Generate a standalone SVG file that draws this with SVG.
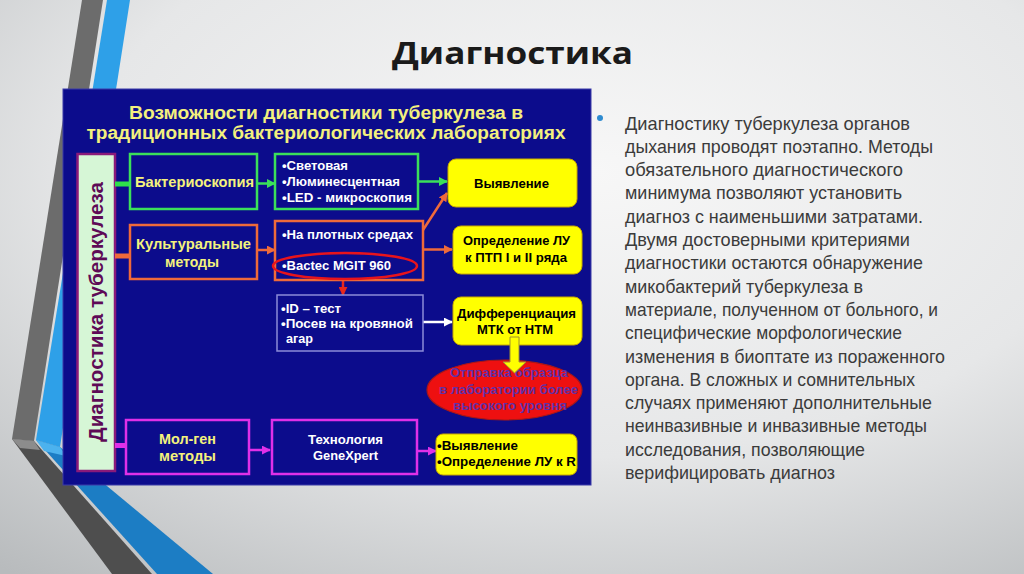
<svg xmlns="http://www.w3.org/2000/svg" width="1024" height="574" viewBox="0 0 1024 574">
<defs>
<radialGradient id="bg" cx="0.58" cy="0.3" r="0.9">
<stop offset="0" stop-color="#f7f7f7"/>
<stop offset="0.55" stop-color="#e6e7e8"/>
<stop offset="1" stop-color="#b8bbbd"/>
</radialGradient>
<marker id="mG" viewBox="0 0 10 10" refX="9" refY="5" markerWidth="9" markerHeight="9" markerUnits="userSpaceOnUse" orient="auto"><path d="M0,0 L10,5 L0,10 z" fill="#3be05a"/></marker>
<marker id="mO" viewBox="0 0 10 10" refX="9" refY="5" markerWidth="9" markerHeight="9" markerUnits="userSpaceOnUse" orient="auto"><path d="M0,0 L10,5 L0,10 z" fill="#ef6a3a"/></marker>
<marker id="mR" viewBox="0 0 10 10" refX="9" refY="5" markerWidth="9" markerHeight="9" markerUnits="userSpaceOnUse" orient="auto"><path d="M0,0 L10,5 L0,10 z" fill="#e8281c"/></marker>
<marker id="mW" viewBox="0 0 10 10" refX="9" refY="5" markerWidth="9" markerHeight="9" markerUnits="userSpaceOnUse" orient="auto"><path d="M0,0 L10,5 L0,10 z" fill="#ffffff"/></marker>
<marker id="mM" viewBox="0 0 10 10" refX="9" refY="5" markerWidth="9" markerHeight="9" markerUnits="userSpaceOnUse" orient="auto"><path d="M0,0 L10,5 L0,10 z" fill="#e030e8"/></marker>
</defs>
<style>
.ar{font-family:"Liberation Sans",Arial,sans-serif;font-weight:bold}
.hd{fill:#f3f07e;font-size:18px}
.yl{fill:#f4f27c;font-size:14.5px}
.wt{fill:#ffffff;font-size:12.5px}
.bk{fill:#000000;font-size:13px}
.pu{fill:#6030a8;font-size:13px}
.nav{fill:#0c0c8c}
.ybox{fill:#ffff00;stroke:#c8a800;stroke-width:1}
.body{font-family:"Liberation Sans",Arial,sans-serif;font-size:19px;fill:#3b3b3b}
.ln{fill:none;stroke-width:2.5}
</style>
<rect x="0" y="0" width="1024" height="574" fill="url(#bg)"/>
<g id="decor">
<polygon points="82,0 103,0 34,441 12,439" fill="#6c6c6c"/>
<polygon points="12,439 34,441 152,574 112,574" fill="#4e4e4e"/>
<polygon points="12,439 34,441 40,450 20,448" fill="#8c8c8c"/>
<polygon points="107,0 130,0 60,447 36,440" fill="#2ea0e8"/>
<polygon points="36,440 60,447 213,574 157,574" fill="#1c7dc4"/>
<polygon points="36,440 60,447 66,456 44,451" fill="#4cb2ee"/>
</g>
<g id="title">
<text x="392" y="64" font-family="'Open Sans','Noto Sans',sans-serif" font-weight="bold" font-size="30" fill="#1a1a1a" textLength="241" lengthAdjust="spacingAndGlyphs">Диагностика</text>
</g>
<g id="bodytext" class="body">
<circle cx="600" cy="118" r="3" fill="#2e8bd0"/>
<text x="625" y="129.5" textLength="285" lengthAdjust="spacingAndGlyphs">Диагностику туберкулеза органов</text>
<text x="625" y="152.8" textLength="308" lengthAdjust="spacingAndGlyphs">дыхания проводят поэтапно. Методы</text>
<text x="625" y="176.1" textLength="278" lengthAdjust="spacingAndGlyphs">обязательного диагностического</text>
<text x="625" y="199.4" textLength="277" lengthAdjust="spacingAndGlyphs">минимума позволяют установить</text>
<text x="625" y="222.7" textLength="298" lengthAdjust="spacingAndGlyphs">диагноз с наименьшими затратами.</text>
<text x="625" y="246" textLength="285" lengthAdjust="spacingAndGlyphs">Двумя достоверными критериями</text>
<text x="625" y="269.3" textLength="298" lengthAdjust="spacingAndGlyphs">диагностики остаются обнаружение</text>
<text x="625" y="292.6" textLength="238" lengthAdjust="spacingAndGlyphs">микобактерий туберкулеза в</text>
<text x="625" y="315.9" textLength="313" lengthAdjust="spacingAndGlyphs">материале, полученном от больного, и</text>
<text x="625" y="339.2" textLength="277" lengthAdjust="spacingAndGlyphs">специфические морфологические</text>
<text x="625" y="362.5" textLength="320" lengthAdjust="spacingAndGlyphs">изменения в биоптате из пораженного</text>
<text x="625" y="385.8" textLength="290" lengthAdjust="spacingAndGlyphs">органа. В сложных и сомнительных</text>
<text x="625" y="409.1" textLength="307" lengthAdjust="spacingAndGlyphs">случаях применяют дополнительные</text>
<text x="625" y="432.4" textLength="302" lengthAdjust="spacingAndGlyphs">неинвазивные и инвазивные методы</text>
<text x="625" y="455.7" textLength="240" lengthAdjust="spacingAndGlyphs">исследования, позволяющие</text>
<text x="625" y="479" textLength="210" lengthAdjust="spacingAndGlyphs">верифицировать диагноз</text>
</g>
<g id="panel">
<rect x="63" y="89" width="528" height="396" class="nav" stroke="#3a3aa8" stroke-width="1"/>
<text class="ar hd" x="326" y="119" text-anchor="middle" textLength="394" lengthAdjust="spacingAndGlyphs">Возможности диагностики туберкулеза в</text>
<text class="ar hd" x="326" y="139" text-anchor="middle" textLength="479" lengthAdjust="spacingAndGlyphs">традиционных бактериологических лабораториях</text>
</g>
<g id="bar">
<rect x="77.5" y="154" width="37.5" height="317" fill="#d6f6d6" stroke="#8a1a7a" stroke-width="2.5"/>
<text class="ar" x="0" y="0" transform="translate(103,312) rotate(-90)" text-anchor="middle" font-size="21" fill="#5e0a56" textLength="260" lengthAdjust="spacingAndGlyphs">Диагностика туберкулеза</text>
</g>
<g id="connectors">
<line x1="115" y1="184" x2="130" y2="184" stroke="#2ee04a" stroke-width="5"/>
<line x1="115" y1="256" x2="130" y2="256" stroke="#ef6a3a" stroke-width="5"/>
<line x1="115" y1="445.5" x2="127" y2="445.5" stroke="#e030e8" stroke-width="5"/>
<line class="ln" x1="257" y1="183.5" x2="275" y2="183.5" stroke="#3be05a" marker-end="url(#mG)"/>
<line class="ln" x1="418" y1="181.5" x2="447" y2="181.5" stroke="#3be05a" marker-end="url(#mG)"/>
<line class="ln" x1="257" y1="250" x2="275" y2="250" stroke="#ef6a3a" marker-end="url(#mO)"/>
<line class="ln" x1="423" y1="230" x2="447" y2="193" stroke="#ef6a3a" marker-end="url(#mO)"/>
<line class="ln" x1="423" y1="249.5" x2="452" y2="249.5" stroke="#ef6a3a" marker-end="url(#mO)"/>
<line class="ln" x1="343" y1="280" x2="343" y2="295" stroke="#e8281c" marker-end="url(#mR)"/>
<line class="ln" x1="423" y1="322" x2="452" y2="322" stroke="#ffffff" marker-end="url(#mW)"/>
<line class="ln" x1="249" y1="450" x2="270" y2="450" stroke="#e030e8" marker-end="url(#mM)"/>
<line class="ln" x1="414" y1="451" x2="436" y2="451" stroke="#e030e8" marker-end="url(#mM)"/>
</g>
<g id="bakterioskopia">
<rect x="130" y="154" width="127" height="55" class="nav" stroke="#3be05a" stroke-width="2.5"/>
<text class="ar yl" x="194.5" y="187" text-anchor="middle" textLength="119" lengthAdjust="spacingAndGlyphs">Бактериоскопия</text>
</g>
<g id="mikroskopia">
<rect x="275" y="154" width="143" height="55" class="nav" stroke="#3be05a" stroke-width="2.5"/>
<text class="ar wt" x="282" y="169.5" textLength="66" lengthAdjust="spacingAndGlyphs">•Световая</text>
<text class="ar wt" x="282" y="185.5" textLength="118" lengthAdjust="spacingAndGlyphs">•Люминесцентная</text>
<text class="ar wt" x="282" y="201.5" textLength="130" lengthAdjust="spacingAndGlyphs">•LED - микроскопия</text>
</g>
<g id="kultura">
<rect x="130" y="225" width="127" height="54" class="nav" stroke="#ef6a3a" stroke-width="2.5"/>
<text class="ar yl" x="193.5" y="248.5" text-anchor="middle" textLength="115" lengthAdjust="spacingAndGlyphs">Культуральные</text>
<text class="ar yl" x="192" y="266.5" text-anchor="middle" textLength="54" lengthAdjust="spacingAndGlyphs">методы</text>
</g>
<g id="sredy">
<rect x="275" y="221" width="148" height="59" class="nav" stroke="#ef6a3a" stroke-width="2.5"/>
<text class="ar wt" x="282" y="239" textLength="131" lengthAdjust="spacingAndGlyphs">•На плотных средах</text>
<text class="ar wt" x="282" y="270" textLength="109" lengthAdjust="spacingAndGlyphs">•Bactec MGIT 960</text>
<ellipse cx="345" cy="266" rx="72" ry="13" fill="none" stroke="#e8141c" stroke-width="2.5"/>
</g>
<g id="idtest">
<rect x="277" y="295" width="146" height="56" class="nav" stroke="#8c8cd8" stroke-width="1.5"/>
<text class="ar wt" x="281" y="312.5" textLength="60" lengthAdjust="spacingAndGlyphs">•ID – тест</text>
<text class="ar wt" x="281" y="328" textLength="132" lengthAdjust="spacingAndGlyphs">•Посев на кровяной</text>
<text class="ar wt" x="286" y="343" textLength="27" lengthAdjust="spacingAndGlyphs">агар</text>
</g>
<g id="vyyavlenie">
<rect x="448" y="159" width="129" height="48" rx="8" class="ybox"/>
<text class="ar bk" x="511.5" y="188" text-anchor="middle" textLength="75" lengthAdjust="spacingAndGlyphs">Выявление</text>
</g>
<g id="opredelenie">
<rect x="453" y="226" width="129" height="48" rx="8" class="ybox"/>
<text class="ar bk" x="516.5" y="245" text-anchor="middle" textLength="107" lengthAdjust="spacingAndGlyphs">Определение ЛУ</text>
<text class="ar bk" x="516" y="261.5" text-anchor="middle" textLength="102" lengthAdjust="spacingAndGlyphs">к ПТП I и II ряда</text>
</g>
<g id="differenciacia">
<rect x="453" y="297" width="129" height="48" rx="8" class="ybox"/>
<text class="ar bk" x="516.5" y="318" text-anchor="middle" textLength="119" lengthAdjust="spacingAndGlyphs">Дифференциация</text>
<text class="ar bk" x="515" y="333.5" text-anchor="middle" textLength="76" lengthAdjust="spacingAndGlyphs">МТК от НТМ</text>
</g>
<g id="otpravka">
<ellipse cx="504.5" cy="390" rx="77.5" ry="30" fill="#ee1010" stroke="#a81818" stroke-width="1.2"/>
<text class="ar pu" x="509" y="377" text-anchor="middle" textLength="118" lengthAdjust="spacingAndGlyphs">Отправка образца</text>
<text class="ar pu" x="508.5" y="393.5" text-anchor="middle" textLength="139" lengthAdjust="spacingAndGlyphs">в лаборатории более</text>
<text class="ar pu" x="510" y="410" text-anchor="middle" textLength="114" lengthAdjust="spacingAndGlyphs">высокого уровня</text>
</g>
<g id="block-arrow">
<polygon points="510,337 519,337 519,362 526,362 514.5,373 503,362 510,362" fill="#ffff00" stroke="#a09030" stroke-width="1"/>
</g>
<g id="molgen">
<rect x="126" y="420" width="123" height="54" class="nav" stroke="#e030e8" stroke-width="2.5"/>
<text class="ar yl" x="187.5" y="443.5" text-anchor="middle" textLength="57" lengthAdjust="spacingAndGlyphs">Мол-ген</text>
<text class="ar yl" x="187.5" y="460.5" text-anchor="middle" textLength="57" lengthAdjust="spacingAndGlyphs">методы</text>
</g>
<g id="genexpert">
<rect x="272" y="420" width="145" height="54" class="nav" stroke="#e030e8" stroke-width="2.5"/>
<text class="ar wt" x="345.5" y="443.5" text-anchor="middle" font-size="13" textLength="75" lengthAdjust="spacingAndGlyphs">Технология</text>
<text class="ar wt" x="345.5" y="459.5" text-anchor="middle" font-size="13" textLength="65" lengthAdjust="spacingAndGlyphs">GeneXpert</text>
</g>
<g id="rezultat">
<rect x="436" y="434" width="141" height="41" rx="7" class="ybox"/>
<text class="ar bk" x="437" y="450" textLength="81" lengthAdjust="spacingAndGlyphs">•Выявление</text>
<text class="ar bk" x="437" y="466" textLength="139" lengthAdjust="spacingAndGlyphs">•Определение ЛУ к R</text>
</g>
</svg>
